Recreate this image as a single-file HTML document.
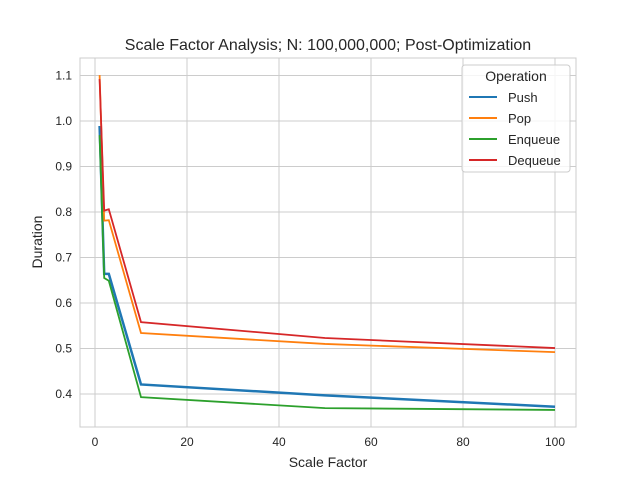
<!DOCTYPE html>
<html><head><meta charset="utf-8"><style>
body{margin:0;background:#fff;font-family:"Liberation Sans",sans-serif}
svg text{font-family:"Liberation Sans",sans-serif;fill:#262626}
</style></head><body>
<svg id="chart" width="640" height="480">
<rect width="640" height="480" fill="#fff"/>
<g id="grid"></g><g id="series"></g><g id="ticks"></g>
<rect x="80" y="58" width="496" height="369" fill="none" stroke="#cccccc" stroke-width="1"/>
<text x="328" y="50" text-anchor="middle" font-size="16">Scale Factor Analysis; N: 100,000,000; Post-Optimization</text>
<text x="328" y="467" text-anchor="middle" font-size="14">Scale Factor</text>
<text x="42" y="242" text-anchor="middle" font-size="14" transform="rotate(-90 42 242)">Duration</text>
<g id="legend">
<rect x="462" y="65" width="108" height="107" rx="3" fill="#fff" fill-opacity="0.8" stroke="#cccccc"/>
<text x="516" y="81" text-anchor="middle" font-size="14">Operation</text>
</g>
</svg>
<script>
const xs=[1,2,3,10,50,100];
const push=[0.989,0.664,0.664,0.421,0.397,0.372];
const pop=[1.101,0.781,0.782,0.534,0.510,0.492];
const enqueue=[0.969,0.655,0.649,0.393,0.369,0.365];
const dequeue=[1.092,0.803,0.806,0.558,0.523,0.501];
const names=["Push","Pop","Enqueue","Dequeue"];
const xTicks=[0,20,40,60,80,100];
const yTicks=[0.4,0.5,0.6,0.7,0.8,0.9,1.0,1.1];
const colors=["#1f77b4","#ff7f0e","#2ca02c","#d62728"];
const NS="http://www.w3.org/2000/svg";
const X=v=>95+v*4.6, Y=v=>394-(v-0.4)*455;
function mk(t,a,p){const e=document.createElementNS(NS,t);for(const k in a)e.setAttribute(k,a[k]);p.appendChild(e);return e;}
const g=document.getElementById('grid'),tk=document.getElementById('ticks'),s=document.getElementById('series'),lg=document.getElementById('legend');
xTicks.forEach(v=>{
 const l=mk('line',{x1:X(v),x2:X(v),y1:58,y2:427,stroke:'#cccccc'},g);
 
 
 const t=mk('text',{x:X(v),y:446,'text-anchor':'middle','font-size':12},tk);t.textContent=v;
 
 
});
yTicks.forEach(v=>{
 const l=mk('line',{x1:80,x2:576,y1:Y(v),y2:Y(v),stroke:'#cccccc'},g);
 
 
 const t=mk('text',{x:72,y:Y(v)+4,'text-anchor':'end','font-size':12},tk);t.textContent=v.toFixed(1);
 
 
});
[push,pop,enqueue,dequeue].forEach((d,i)=>{
 const p=mk('polyline',{points:d.map((v,j)=>X(xs[j])+','+Y(v)).join(' '),fill:'none',stroke:colors[i],'stroke-width':i==0?2.5:1.8},s);
 
 
 const ly=97+i*21;
 const l=mk('line',{x1:469,x2:497,y1:ly,y2:ly,stroke:colors[i],'stroke-width':2},lg);
 
 
 const t=mk('text',{x:508,y:ly+5,'font-size':13},lg);t.textContent=names[i];
 
 
});
</script>
</body></html>
